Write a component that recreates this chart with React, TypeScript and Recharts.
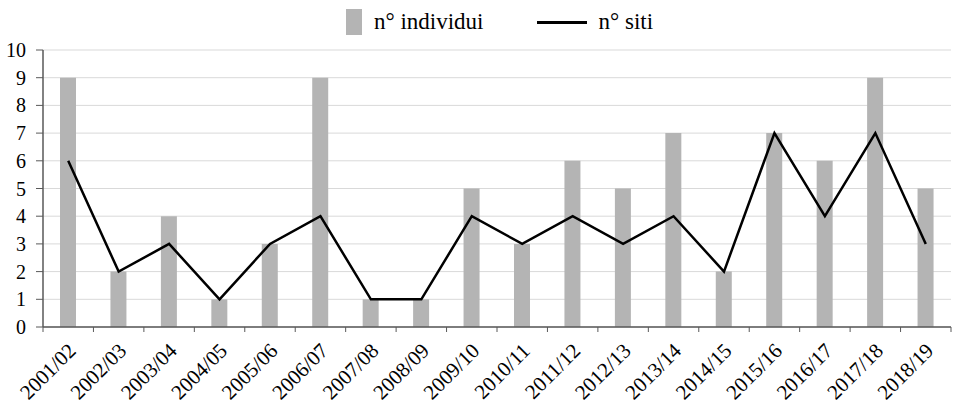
import React from 'react';
import { ComposedChart, Bar, Line, XAxis, YAxis, CartesianGrid } from 'recharts';

const seasons = [
  '2001/02', '2002/03', '2003/04', '2004/05', '2005/06', '2006/07', '2007/08', '2008/09', '2009/10',
  '2010/11', '2011/12', '2012/13', '2013/14', '2014/15', '2015/16', '2016/17', '2017/18', '2018/19',
];
const individui = [9, 2, 4, 1, 3, 9, 1, 1, 5, 3, 6, 5, 7, 2, 7, 6, 9, 5];
const siti = [6, 2, 3, 1, 3, 4, 1, 1, 4, 3, 4, 3, 4, 2, 7, 4, 7, 3];
const yTicks = [0, 1, 2, 3, 4, 5, 6, 7, 8, 9, 10];

const data = seasons.map((s, i) => ({ season: s, individui: individui[i], siti: siti[i] }));

const W = 957;
const H = 404;
const LEFT = 43;
const RIGHT = 6;
const BAND = (W - LEFT - RIGHT) / seasons.length;
const AXIS = '#595959';
const FONT = "'Liberation Serif', serif";

// tick marks sit between categories, labels rotated under the bar
const XTick = (props: any) => {
  const { x, y, payload, index } = props;
  const ax = x + 9;
  const ay = y + 20;
  return (
    <g>
      <line x1={x - BAND / 2} x2={x - BAND / 2} y1={y - 5} y2={y} stroke={AXIS} />
      {index === seasons.length - 1 && (
        <line x1={x + BAND / 2} x2={x + BAND / 2} y1={y - 5} y2={y} stroke={AXIS} />
      )}
      <text
        x={ax}
        y={ay}
        textAnchor="end"
        transform={`rotate(-45, ${ax}, ${ay})`}
        fontSize={21}
        fontFamily={FONT}
        fill="#000"
      >
        {payload.value}
      </text>
    </g>
  );
};

const YTick = (props: any) => {
  const { x, y, payload } = props;
  return (
    <text x={x} y={y} dy={7} textAnchor="end" fontSize={20} fontFamily={FONT} fill="#000">
      {payload.value}
    </text>
  );
};

export default function App() {
  return (
    <div style={{ position: 'absolute', left: 0, top: 0, width: W, height: H, background: '#fff' }}>
      {/* legenda */}
      <div style={{ position: 'absolute', top: 9, left: 346, height: 26, display: 'flex', alignItems: 'center', fontFamily: FONT, fontSize: 23, color: '#000' }}>
        <span style={{ display: 'inline-block', width: 16, height: 26, background: '#b4b4b4' }} />
        <span style={{ marginLeft: 12 }}>n° individui</span>
        <span style={{ display: 'inline-block', width: 50, height: 3, background: '#000', marginLeft: 53 }} />
        <span style={{ marginLeft: 12 }}>n° siti</span>
      </div>
      <ComposedChart
        width={W}
        height={H}
        data={data}
        margin={{ top: 50, right: RIGHT, bottom: 0, left: 0 }}
        style={{ position: 'absolute', left: 0, top: 0 }}
      >
        <CartesianGrid vertical={false} stroke="#d9d9d9" strokeWidth={1} />
        <XAxis
          dataKey="season"
          height={77}
          axisLine={{ stroke: AXIS, strokeWidth: 1.5 }}
          tickLine={false}
          tickSize={5}
          tickMargin={0}
          interval={0}
          tick={<XTick />}
        />
        <YAxis
          width={LEFT}
          domain={[0, 10]}
          ticks={yTicks}
          interval={0}
          axisLine={{ stroke: AXIS, strokeWidth: 1.5 }}
          tickLine={{ stroke: AXIS }}
          tickSize={7}
          tickMargin={10}
          tick={<YTick />}
        />
        <Bar dataKey="individui" fill="#b4b4b4" barSize={16} isAnimationActive={false} />
        <Line
          type="linear"
          dataKey="siti"
          stroke="#000"
          strokeWidth={2.5}
          dot={false}
          activeDot={false}
          isAnimationActive={false}
        />
      </ComposedChart>
    </div>
  );
}
